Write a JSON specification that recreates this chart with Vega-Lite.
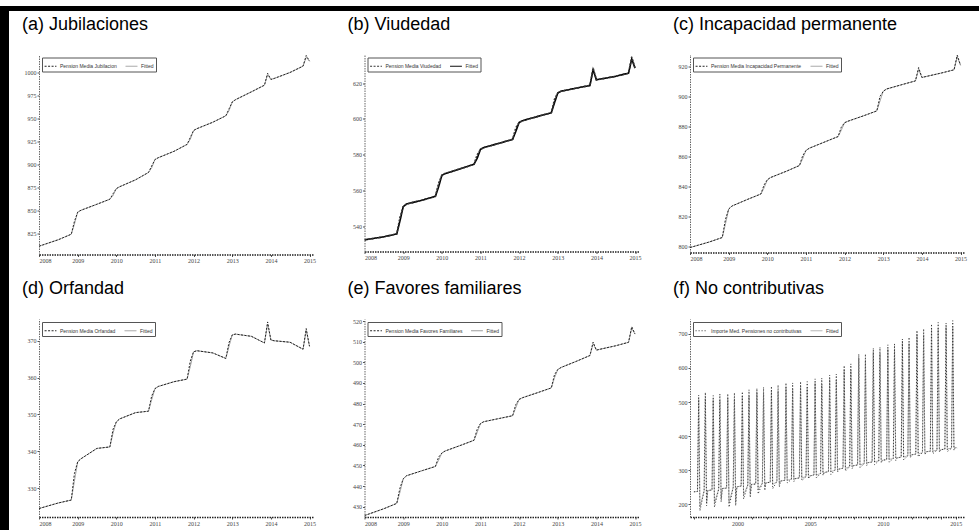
{
"$schema": "https://vega.github.io/schema/vega-lite/v6.json",
"padding": {"left": 0, "top": 6, "right": 0, "bottom": 0},
"background": "white",
"spacing": 0,
"datasets": {
"a": [
{"d":"2008/01/01","act":811,"fit":811},{"d":"2008/07/01","act":818,"fit":818},{"d":"2008/11/01","act":824,"fit":824},{"d":"2008/12/01","act":838,"fit":835},
{"d":"2009/01/01","act":848,"fit":848},{"d":"2009/02/01","act":850,"fit":850},{"d":"2009/07/01","act":856.5,"fit":856.5},{"d":"2009/11/01","act":862,"fit":862},{"d":"2009/12/01","act":868,"fit":866},
{"d":"2010/01/01","act":873.5,"fit":873.5},{"d":"2010/02/01","act":875.5,"fit":875.5},{"d":"2010/07/01","act":883,"fit":883},{"d":"2010/11/01","act":891,"fit":891},{"d":"2010/12/01","act":898,"fit":896},
{"d":"2011/01/01","act":905,"fit":905},{"d":"2011/02/01","act":907,"fit":907},{"d":"2011/07/01","act":914,"fit":914},{"d":"2011/11/01","act":921.5,"fit":921.5},{"d":"2011/12/01","act":929,"fit":927},
{"d":"2012/01/01","act":936.5,"fit":936.5},{"d":"2012/02/01","act":938.5,"fit":938.5},{"d":"2012/07/01","act":945.5,"fit":945.5},{"d":"2012/11/01","act":952.5,"fit":952.5},{"d":"2012/12/01","act":960,"fit":958},
{"d":"2013/01/01","act":967.5,"fit":967.5},{"d":"2013/02/01","act":970,"fit":970},{"d":"2013/07/01","act":978.5,"fit":978.5},{"d":"2013/11/01","act":985.7,"fit":985.7},{"d":"2013/12/01","act":998.6,"fit":997},
{"d":"2014/01/01","act":992,"fit":992},{"d":"2014/02/01","act":993,"fit":993},{"d":"2014/07/01","act":999.5,"fit":999.5},{"d":"2014/11/01","act":1006.4,"fit":1006.4},{"d":"2014/12/01","act":1017.9,"fit":1016},
{"d":"2015/01/01","act":1011.8,"fit":1011.8}
],
"b": [
{"d":"2008/01/01","act":532.5,"fit":532.5},{"d":"2008/07/01","act":534.2,"fit":534.2},{"d":"2008/11/01","act":535.8,"fit":535.8},{"d":"2008/12/01","act":545,"fit":543},
{"d":"2009/01/01","act":551,"fit":551},{"d":"2009/02/01","act":552.5,"fit":552.5},{"d":"2009/07/01","act":554.7,"fit":554.7},{"d":"2009/11/01","act":556.8,"fit":556.8},{"d":"2009/12/01","act":564,"fit":562},
{"d":"2010/01/01","act":568.5,"fit":568.5},{"d":"2010/02/01","act":569.5,"fit":569.5},{"d":"2010/07/01","act":572.3,"fit":572.3},{"d":"2010/11/01","act":574.7,"fit":574.7},{"d":"2010/12/01","act":580,"fit":578},
{"d":"2011/01/01","act":583,"fit":583},{"d":"2011/02/01","act":584,"fit":584},{"d":"2011/07/01","act":586.5,"fit":586.5},{"d":"2011/11/01","act":588.6,"fit":588.6},{"d":"2011/12/01","act":595,"fit":593},
{"d":"2012/01/01","act":598,"fit":598},{"d":"2012/02/01","act":599,"fit":599},{"d":"2012/07/01","act":601.5,"fit":601.5},{"d":"2012/11/01","act":603.5,"fit":603.5},{"d":"2012/12/01","act":611,"fit":609},
{"d":"2013/01/01","act":614.5,"fit":614.5},{"d":"2013/02/01","act":615.5,"fit":615.5},{"d":"2013/07/01","act":617.3,"fit":617.3},{"d":"2013/11/01","act":618.7,"fit":618.7},{"d":"2013/12/01","act":628.4,"fit":627.5},
{"d":"2014/01/01","act":621.9,"fit":621.9},{"d":"2014/02/01","act":622.2,"fit":622.2},{"d":"2014/07/01","act":623.8,"fit":623.8},{"d":"2014/11/01","act":625.6,"fit":625.6},{"d":"2014/12/01","act":634.6,"fit":633.5},
{"d":"2015/01/01","act":628.4,"fit":628.4}
],
"c": [
{"d":"2008/01/01","act":799.3,"fit":799.3},{"d":"2008/07/01","act":803,"fit":803},{"d":"2008/11/01","act":806,"fit":806},{"d":"2008/12/01","act":818,"fit":815},
{"d":"2009/01/01","act":825,"fit":825},{"d":"2009/02/01","act":827,"fit":827},{"d":"2009/07/01","act":831.5,"fit":831.5},{"d":"2009/11/01","act":835,"fit":835},{"d":"2009/12/01","act":841,"fit":839},
{"d":"2010/01/01","act":844.5,"fit":844.5},{"d":"2010/02/01","act":846,"fit":846},{"d":"2010/07/01","act":850.2,"fit":850.2},{"d":"2010/11/01","act":854,"fit":854},{"d":"2010/12/01","act":860.5,"fit":858.5},
{"d":"2011/01/01","act":864,"fit":864},{"d":"2011/02/01","act":865.5,"fit":865.5},{"d":"2011/07/01","act":869.8,"fit":869.8},{"d":"2011/11/01","act":873.3,"fit":873.3},{"d":"2011/12/01","act":879.5,"fit":877.5},
{"d":"2012/01/01","act":882.5,"fit":882.5},{"d":"2012/02/01","act":883.5,"fit":883.5},{"d":"2012/07/01","act":887.2,"fit":887.2},{"d":"2012/11/01","act":890.4,"fit":890.4},{"d":"2012/12/01","act":900,"fit":897},
{"d":"2013/01/01","act":903.5,"fit":903.5},{"d":"2013/02/01","act":905,"fit":905},{"d":"2013/07/01","act":908,"fit":908},{"d":"2013/11/01","act":910.4,"fit":910.4},{"d":"2013/12/01","act":919.3,"fit":918},
{"d":"2014/01/01","act":912.7,"fit":912.7},{"d":"2014/02/01","act":913.2,"fit":913.2},{"d":"2014/07/01","act":915.6,"fit":915.6},{"d":"2014/11/01","act":917.8,"fit":917.8},{"d":"2014/12/01","act":927.6,"fit":926.5},
{"d":"2015/01/01","act":920.9,"fit":920.9}
],
"d": [
{"d":"2008/01/01","act":324.5,"fit":324.5},{"d":"2008/07/01","act":326,"fit":326},{"d":"2008/11/01","act":326.8,"fit":326.8},{"d":"2008/12/01","act":334,"fit":332},
{"d":"2009/01/01","act":337.2,"fit":337.2},{"d":"2009/02/01","act":338,"fit":338},{"d":"2009/07/01","act":340.8,"fit":340.8},{"d":"2009/11/01","act":341.2,"fit":341.2},{"d":"2009/12/01","act":346,"fit":345},
{"d":"2010/01/01","act":348,"fit":348},{"d":"2010/02/01","act":348.8,"fit":348.8},{"d":"2010/07/01","act":350.5,"fit":350.5},{"d":"2010/11/01","act":350.9,"fit":350.9},{"d":"2010/12/01","act":355,"fit":354},
{"d":"2011/01/01","act":357,"fit":357},{"d":"2011/02/01","act":357.6,"fit":357.6},{"d":"2011/07/01","act":358.9,"fit":358.9},{"d":"2011/11/01","act":359.6,"fit":359.6},{"d":"2011/12/01","act":364.5,"fit":363},
{"d":"2012/01/01","act":367,"fit":367},{"d":"2012/02/01","act":367.3,"fit":367.3},{"d":"2012/07/01","act":366.7,"fit":366.7},{"d":"2012/11/01","act":365.2,"fit":365.2},{"d":"2012/12/01","act":369.5,"fit":368.5},
{"d":"2013/01/01","act":371.6,"fit":371.6},{"d":"2013/02/01","act":371.8,"fit":371.8},{"d":"2013/07/01","act":371.2,"fit":371.2},{"d":"2013/11/01","act":369.4,"fit":369.4},{"d":"2013/12/01","act":375.1,"fit":374.5},
{"d":"2014/01/01","act":370.2,"fit":370.2},{"d":"2014/02/01","act":370,"fit":370},{"d":"2014/07/01","act":369.6,"fit":369.6},{"d":"2014/11/01","act":367.7,"fit":367.7},{"d":"2014/12/01","act":373.3,"fit":372.8},
{"d":"2015/01/01","act":368.5,"fit":368.5}
],
"e": [
{"d":"2008/01/01","act":425.7,"fit":425.7},{"d":"2008/07/01","act":429,"fit":429},{"d":"2008/11/01","act":431.6,"fit":431.6},{"d":"2008/12/01","act":439,"fit":437},
{"d":"2009/01/01","act":443.5,"fit":443.5},{"d":"2009/02/01","act":445,"fit":445},{"d":"2009/07/01","act":447.5,"fit":447.5},{"d":"2009/11/01","act":449.5,"fit":449.5},{"d":"2009/12/01","act":454,"fit":452.5},
{"d":"2010/01/01","act":456,"fit":456},{"d":"2010/02/01","act":457,"fit":457},{"d":"2010/07/01","act":459.8,"fit":459.8},{"d":"2010/11/01","act":462.2,"fit":462.2},{"d":"2010/12/01","act":467.5,"fit":466},
{"d":"2011/01/01","act":470.3,"fit":470.3},{"d":"2011/02/01","act":471.2,"fit":471.2},{"d":"2011/07/01","act":472.8,"fit":472.8},{"d":"2011/11/01","act":474.1,"fit":474.1},{"d":"2011/12/01","act":479.5,"fit":478},
{"d":"2012/01/01","act":482,"fit":482},{"d":"2012/02/01","act":482.8,"fit":482.8},{"d":"2012/07/01","act":485.4,"fit":485.4},{"d":"2012/11/01","act":487.6,"fit":487.6},{"d":"2012/12/01","act":494,"fit":492.5},
{"d":"2013/01/01","act":496.5,"fit":496.5},{"d":"2013/02/01","act":497.5,"fit":497.5},{"d":"2013/07/01","act":500.6,"fit":500.6},{"d":"2013/11/01","act":503.3,"fit":503.3},{"d":"2013/12/01","act":509.8,"fit":509},
{"d":"2014/01/01","act":505.9,"fit":505.9},{"d":"2014/02/01","act":506.3,"fit":506.3},{"d":"2014/07/01","act":508,"fit":508},{"d":"2014/11/01","act":509.7,"fit":509.7},{"d":"2014/12/01","act":517.3,"fit":516.5},
{"d":"2015/01/01","act":513.7,"fit":513.7}
],
"f": [
{"d":"1997/01/01","act":236,"fit":236},{"d":"1997/04/01","act":237,"fit":237},{"d":"1997/05/01","act":520,"fit":508},{"d":"1997/06/01","act":180,"fit":192},{"d":"1997/09/15","act":239,"fit":239},{"d":"1997/10/15","act":528,"fit":510},{"d":"1997/11/15","act":195,"fit":205},{"d":"1997/12/15","act":240,"fit":240},
{"d":"1998/01/01","act":240,"fit":240},{"d":"1998/04/01","act":241.5,"fit":241.5},{"d":"1998/05/01","act":519,"fit":507},{"d":"1998/06/01","act":191,"fit":203},{"d":"1998/09/15","act":244,"fit":244},{"d":"1998/10/15","act":524,"fit":506},{"d":"1998/11/15","act":206,"fit":216},{"d":"1998/12/15","act":245.7,"fit":245.7},
{"d":"1999/01/01","act":246,"fit":246},{"d":"1999/04/01","act":247,"fit":247},{"d":"1999/05/01","act":524,"fit":512},{"d":"1999/06/01","act":191,"fit":203},{"d":"1999/09/15","act":249.5,"fit":249.5},{"d":"1999/10/15","act":527,"fit":509},{"d":"1999/11/15","act":195,"fit":205},{"d":"1999/12/15","act":250.7,"fit":250.7},
{"d":"2000/01/01","act":251,"fit":251},{"d":"2000/04/01","act":253,"fit":253},{"d":"2000/05/01","act":530,"fit":518},{"d":"2000/06/01","act":215,"fit":227},{"d":"2000/09/15","act":256,"fit":256},{"d":"2000/10/15","act":536,"fit":518},{"d":"2000/11/15","act":220,"fit":230},{"d":"2000/12/15","act":257.6,"fit":257.6},
{"d":"2001/01/01","act":258,"fit":258},{"d":"2001/04/01","act":259,"fit":259},{"d":"2001/05/01","act":540,"fit":528},{"d":"2001/06/01","act":230,"fit":242},{"d":"2001/09/15","act":261.5,"fit":261.5},{"d":"2001/10/15","act":543,"fit":525},{"d":"2001/11/15","act":240,"fit":250},{"d":"2001/12/15","act":262.7,"fit":262.7},
{"d":"2002/01/01","act":263,"fit":263},{"d":"2002/04/01","act":264,"fit":264},{"d":"2002/05/01","act":546,"fit":534},{"d":"2002/06/01","act":245,"fit":257},{"d":"2002/09/15","act":266.5,"fit":266.5},{"d":"2002/10/15","act":550,"fit":532},{"d":"2002/11/15","act":250,"fit":260},{"d":"2002/12/15","act":267.7,"fit":267.7},
{"d":"2003/01/01","act":268,"fit":268},{"d":"2003/04/01","act":270,"fit":270},{"d":"2003/05/01","act":556,"fit":544},{"d":"2003/06/01","act":262,"fit":270},{"d":"2003/09/15","act":273,"fit":273},{"d":"2003/10/15","act":556,"fit":538},{"d":"2003/11/15","act":266,"fit":274},{"d":"2003/12/15","act":274.6,"fit":274.6},
{"d":"2004/01/01","act":275,"fit":275},{"d":"2004/04/01","act":277,"fit":277},{"d":"2004/05/01","act":560,"fit":548},{"d":"2004/06/01","act":269,"fit":277},{"d":"2004/09/15","act":280.6,"fit":280.6},{"d":"2004/10/15","act":560,"fit":542},{"d":"2004/11/15","act":274,"fit":282},{"d":"2004/12/15","act":282.6,"fit":282.6},
{"d":"2005/01/01","act":283,"fit":283},{"d":"2005/04/01","act":285.5,"fit":285.5},{"d":"2005/05/01","act":568,"fit":556},{"d":"2005/06/01","act":277,"fit":285},{"d":"2005/09/15","act":290,"fit":290},{"d":"2005/10/15","act":570,"fit":552},{"d":"2005/11/15","act":284,"fit":292},{"d":"2005/12/15","act":292.5,"fit":292.5},
{"d":"2006/01/01","act":293,"fit":293},{"d":"2006/04/01","act":295.5,"fit":295.5},{"d":"2006/05/01","act":579,"fit":567},{"d":"2006/06/01","act":287,"fit":295},{"d":"2006/09/15","act":300,"fit":300},{"d":"2006/10/15","act":582,"fit":564},{"d":"2006/11/15","act":294,"fit":302},{"d":"2006/12/15","act":302.5,"fit":302.5},
{"d":"2007/01/01","act":303,"fit":303},{"d":"2007/04/01","act":305.5,"fit":305.5},{"d":"2007/05/01","act":607,"fit":595},{"d":"2007/06/01","act":297,"fit":305},{"d":"2007/09/15","act":310,"fit":310},{"d":"2007/10/15","act":612,"fit":594},{"d":"2007/11/15","act":304,"fit":312},{"d":"2007/12/15","act":312.5,"fit":312.5},
{"d":"2008/01/01","act":313,"fit":313},{"d":"2008/04/01","act":315,"fit":315},{"d":"2008/05/01","act":641,"fit":629},{"d":"2008/06/01","act":307,"fit":315},{"d":"2008/09/15","act":319.3,"fit":319.3},{"d":"2008/10/15","act":641,"fit":623},{"d":"2008/11/15","act":313,"fit":321},{"d":"2008/12/15","act":321.5,"fit":321.5},
{"d":"2009/01/01","act":322,"fit":322},{"d":"2009/04/01","act":323.7,"fit":323.7},{"d":"2009/05/01","act":658,"fit":646},{"d":"2009/06/01","act":316,"fit":324},{"d":"2009/09/15","act":327,"fit":327},{"d":"2009/10/15","act":661,"fit":643},{"d":"2009/11/15","act":321,"fit":329},{"d":"2009/12/15","act":328.6,"fit":328.6},
{"d":"2010/01/01","act":329,"fit":329},{"d":"2010/04/01","act":330.7,"fit":330.7},{"d":"2010/05/01","act":668,"fit":656},{"d":"2010/06/01","act":323,"fit":331},{"d":"2010/09/15","act":334,"fit":334},{"d":"2010/10/15","act":671,"fit":653},{"d":"2010/11/15","act":328,"fit":336},{"d":"2010/12/15","act":335.6,"fit":335.6},
{"d":"2011/01/01","act":336,"fit":336},{"d":"2011/04/01","act":338,"fit":338},{"d":"2011/05/01","act":685,"fit":673},{"d":"2011/06/01","act":330,"fit":338},{"d":"2011/09/15","act":342.3,"fit":342.3},{"d":"2011/10/15","act":690,"fit":672},{"d":"2011/11/15","act":336,"fit":344},{"d":"2011/12/15","act":344.5,"fit":344.5},
{"d":"2012/01/01","act":345,"fit":345},{"d":"2012/04/01","act":347,"fit":347},{"d":"2012/05/01","act":710,"fit":698},{"d":"2012/06/01","act":339,"fit":347},{"d":"2012/09/15","act":351.3,"fit":351.3},{"d":"2012/10/15","act":715,"fit":697},{"d":"2012/11/15","act":345,"fit":353},{"d":"2012/12/15","act":353.5,"fit":353.5},
{"d":"2013/01/01","act":354,"fit":354},{"d":"2013/04/01","act":355.5,"fit":355.5},{"d":"2013/05/01","act":729,"fit":717},{"d":"2013/06/01","act":348,"fit":356},{"d":"2013/09/15","act":358.2,"fit":358.2},{"d":"2013/10/15","act":734,"fit":716},{"d":"2013/11/15","act":352,"fit":360},{"d":"2013/12/15","act":359.7,"fit":359.7},
{"d":"2014/01/01","act":360,"fit":360},{"d":"2014/04/01","act":361.5,"fit":361.5},{"d":"2014/05/01","act":732,"fit":720},{"d":"2014/06/01","act":354,"fit":362},{"d":"2014/09/15","act":364.2,"fit":364.2},{"d":"2014/10/15","act":739,"fit":721},{"d":"2014/11/15","act":358,"fit":366},{"d":"2014/12/15","act":365.7,"fit":365.7},
{"d":"2015/01/15","act":366,"fit":366},{"d":"2015/02/01","act":365,"fit":365}
]
},
"resolve": {"scale": {"color": "independent", "strokeDash": "independent"}, "legend": {"color": "independent", "strokeDash": "independent"}},
"vconcat": [
{"width": 979, "height": 5, "data": {"values": []}, "mark": "rule", "encoding": {}, "view": {"fill": "black", "stroke": null}},
{"spacing": 0,
 "resolve": {"scale": {"color": "independent", "strokeDash": "independent"}, "legend": {"color": "independent", "strokeDash": "independent"}},
 "hconcat": [
 {"width": 9, "height": 519, "data": {"values": []}, "mark": "rule", "encoding": {}, "view": {"fill": "black", "stroke": null}},
 {"spacing": 3.5,
  "resolve": {"scale": {"color": "independent", "strokeDash": "independent"}, "legend": {"color": "independent", "strokeDash": "independent"}},
  "vconcat": [
  {"width": 1, "height": 1, "data": {"values": []}, "mark": "rule", "encoding": {}, "view": {"fill": "white", "stroke": null}},
  {"spacing": 15.5,
   "resolve": {"scale": {"color": "independent", "strokeDash": "independent"}, "legend": {"color": "independent", "strokeDash": "independent"}},
   "vconcat": [
   {"spacing": 51.5, "bounds": "flush",
    "resolve": {"scale": {"color": "independent", "strokeDash": "independent"}, "legend": {"color": "independent", "strokeDash": "independent"}},
    "hconcat": [
    {"width": 274, "height": 200, "title": {"text": "(a) Jubilaciones", "offset": 21},
     "data": {"name": "a"}, "transform": [{"fold": ["fit", "act"], "as": ["s", "v"]}],
     "mark": {"type": "line", "clip": true, "strokeWidth": 1},
     "encoding": {
      "x": {"field": "d", "type": "temporal", "scale": {"domain": [{"year": 2008, "month": 1, "date": 1}, {"year": 2015, "month": 2, "date": 3}]}, "axis": {"format": "%Y", "values": [{"year": 2008}, {"year": 2009}, {"year": 2010}, {"year": 2011}, {"year": 2012}, {"year": 2013}, {"year": 2014}, {"year": 2015}]}},
      "y": {"field": "v", "type": "quantitative", "scale": {"domain": [802, 1019], "nice": false, "zero": false}, "axis": {"format": "d", "values": [825, 850, 875, 900, 925, 950, 975, 1000]}},
      "color": {"field": "s", "type": "nominal", "title": null, "scale": {"domain": ["act", "fit"], "range": ["#222", "#999"]}, "legend": {"labelExpr": "datum.label == 'act' ? 'Pension Media Jubilacion' : 'Fitted'"}},
      "strokeDash": {"field": "s", "type": "nominal", "title": null, "scale": {"domain": ["act", "fit"], "range": [[2, 1.5], [1, 0]]}, "legend": {"labelExpr": "datum.label == 'act' ? 'Pension Media Jubilacion' : 'Fitted'"}}
     }},
    {"width": 274, "height": 197, "title": {"text": "(b) Viudedad", "offset": 21},
     "data": {"name": "b"}, "transform": [{"fold": ["fit", "act"], "as": ["s", "v"]}],
     "mark": {"type": "line", "clip": true, "strokeWidth": 1.6},
     "encoding": {
      "x": {"field": "d", "type": "temporal", "scale": {"domain": [{"year": 2008, "month": 1, "date": 1}, {"year": 2015, "month": 2, "date": 3}]}, "axis": {"format": "%Y", "values": [{"year": 2008}, {"year": 2009}, {"year": 2010}, {"year": 2011}, {"year": 2012}, {"year": 2013}, {"year": 2014}, {"year": 2015}]}},
      "y": {"field": "v", "type": "quantitative", "scale": {"domain": [526, 636], "nice": false, "zero": false}, "axis": {"format": "d", "values": [540, 560, 580, 600, 620]}},
      "color": {"field": "s", "type": "nominal", "title": null, "scale": {"domain": ["act", "fit"], "range": ["#333", "#000"]}, "legend": {"labelExpr": "datum.label == 'act' ? 'Pension Media Viudedad' : 'Fitted'"}},
      "strokeDash": {"field": "s", "type": "nominal", "title": null, "scale": {"domain": ["act", "fit"], "range": [[2, 1.5], [1, 0]]}, "legend": {"labelExpr": "datum.label == 'act' ? 'Pension Media Viudedad' : 'Fitted'"}}
     }},
    {"width": 274, "height": 198, "title": {"text": "(c) Incapacidad permanente", "offset": 21},
     "data": {"name": "c"}, "transform": [{"fold": ["fit", "act"], "as": ["s", "v"]}],
     "mark": {"type": "line", "clip": true, "strokeWidth": 1},
     "encoding": {
      "x": {"field": "d", "type": "temporal", "scale": {"domain": [{"year": 2008, "month": 1, "date": 1}, {"year": 2015, "month": 2, "date": 3}]}, "axis": {"format": "%Y", "values": [{"year": 2008}, {"year": 2009}, {"year": 2010}, {"year": 2011}, {"year": 2012}, {"year": 2013}, {"year": 2014}, {"year": 2015}]}},
      "y": {"field": "v", "type": "quantitative", "scale": {"domain": [796, 928], "nice": false, "zero": false}, "axis": {"format": "d", "values": [800, 820, 840, 860, 880, 900, 920]}},
      "color": {"field": "s", "type": "nominal", "title": null, "scale": {"domain": ["act", "fit"], "range": ["#222", "#999"]}, "legend": {"labelExpr": "datum.label == 'act' ? 'Pension Media Incapacidad Permanente' : 'Fitted'"}},
      "strokeDash": {"field": "s", "type": "nominal", "title": null, "scale": {"domain": ["act", "fit"], "range": [[2, 1.5], [1, 0]]}, "legend": {"labelExpr": "datum.label == 'act' ? 'Pension Media Incapacidad Permanente' : 'Fitted'"}}
     }}
    ]},
   {"spacing": 51.5, "bounds": "flush",
    "resolve": {"scale": {"color": "independent", "strokeDash": "independent"}, "legend": {"color": "independent", "strokeDash": "independent"}},
    "hconcat": [
    {"width": 274, "height": 198, "title": {"text": "(d) Orfandad", "offset": 21.3},
     "data": {"name": "d"}, "transform": [{"fold": ["fit", "act"], "as": ["s", "v"]}],
     "mark": {"type": "line", "clip": true, "strokeWidth": 1},
     "encoding": {
      "x": {"field": "d", "type": "temporal", "scale": {"domain": [{"year": 2008, "month": 1, "date": 1}, {"year": 2015, "month": 2, "date": 3}]}, "axis": {"format": "%Y", "values": [{"year": 2008}, {"year": 2009}, {"year": 2010}, {"year": 2011}, {"year": 2012}, {"year": 2013}, {"year": 2014}, {"year": 2015}]}},
      "y": {"field": "v", "type": "quantitative", "scale": {"domain": [322.2, 375.9], "nice": false, "zero": false}, "axis": {"format": "d", "values": [330, 340, 350, 360, 370]}},
      "color": {"field": "s", "type": "nominal", "title": null, "scale": {"domain": ["act", "fit"], "range": ["#222", "#999"]}, "legend": {"labelExpr": "datum.label == 'act' ? 'Pension Media Orfandad' : 'Fitted'"}},
      "strokeDash": {"field": "s", "type": "nominal", "title": null, "scale": {"domain": ["act", "fit"], "range": [[2, 1.5], [1, 0]]}, "legend": {"labelExpr": "datum.label == 'act' ? 'Pension Media Orfandad' : 'Fitted'"}}
     }},
    {"width": 274, "height": 198, "title": {"text": "(e) Favores familiares", "offset": 20.3},
     "data": {"name": "e"}, "transform": [{"fold": ["fit", "act"], "as": ["s", "v"]}],
     "mark": {"type": "line", "clip": true, "strokeWidth": 1},
     "encoding": {
      "x": {"field": "d", "type": "temporal", "scale": {"domain": [{"year": 2008, "month": 1, "date": 1}, {"year": 2015, "month": 2, "date": 3}]}, "axis": {"format": "%Y", "values": [{"year": 2008}, {"year": 2009}, {"year": 2010}, {"year": 2011}, {"year": 2012}, {"year": 2013}, {"year": 2014}, {"year": 2015}]}},
      "y": {"field": "v", "type": "quantitative", "scale": {"domain": [425, 521], "nice": false, "zero": false}, "axis": {"format": "d", "values": [430, 440, 450, 460, 470, 480, 490, 500, 510, 520]}},
      "color": {"field": "s", "type": "nominal", "title": null, "scale": {"domain": ["act", "fit"], "range": ["#222", "#999"]}, "legend": {"labelExpr": "datum.label == 'act' ? 'Pension Media Favores Familiares' : 'Fitted'"}},
      "strokeDash": {"field": "s", "type": "nominal", "title": null, "scale": {"domain": ["act", "fit"], "range": [[2, 1.5], [1, 0]]}, "legend": {"labelExpr": "datum.label == 'act' ? 'Pension Media Favores Familiares' : 'Fitted'"}}
     }},
    {"width": 274, "height": 198, "title": {"text": "(f) No contributivas", "offset": 21.3},
     "data": {"name": "f"}, "transform": [{"fold": ["fit", "act"], "as": ["s", "v"]}],
     "mark": {"type": "line", "clip": true, "strokeWidth": 1},
     "encoding": {
      "x": {"field": "d", "type": "temporal", "scale": {"domain": [{"year": 1996, "month": 9, "date": 25}, {"year": 2015, "month": 7, "date": 25}]}, "axis": {"format": "%Y", "labelExpr": "year(datum.value) % 5 === 0 ? datum.label : ''", "values": [{"year": 1997}, {"year": 1998}, {"year": 1999}, {"year": 2000}, {"year": 2001}, {"year": 2002}, {"year": 2003}, {"year": 2004}, {"year": 2005}, {"year": 2006}, {"year": 2007}, {"year": 2008}, {"year": 2009}, {"year": 2010}, {"year": 2011}, {"year": 2012}, {"year": 2013}, {"year": 2014}, {"year": 2015}]}},
      "y": {"field": "v", "type": "quantitative", "scale": {"domain": [162, 744], "nice": false, "zero": false}, "axis": {"format": "d", "values": [200, 300, 400, 500, 600, 700]}},
      "color": {"field": "s", "type": "nominal", "title": null, "scale": {"domain": ["act", "fit"], "range": ["#333", "#aaa"]}, "legend": {"labelExpr": "datum.label == 'act' ? 'Importe Med. Pensiones no contributivas' : 'Fitted'"}},
      "strokeDash": {"field": "s", "type": "nominal", "title": null, "scale": {"domain": ["act", "fit"], "range": [[1, 2], [1, 0]]}, "legend": {"labelExpr": "datum.label == 'act' ? 'Importe Med. Pensiones no contributivas' : 'Fitted'"}}
     }}
    ]}
   ]}
  ]}
 ]}
],
"config": {
 "view": {"stroke": null},
 "title": {"font": "Liberation Sans", "fontSize": 18, "fontWeight": "normal", "color": "#000", "anchor": "start", "frame": "group", "dx": -17, "baseline": "alphabetic"},
 "axis": {"labelFont": "Liberation Serif", "labelFontSize": 6, "labelColor": "#444", "domainColor": "#666", "domainDash": [1.5, 1], "tickColor": "#555", "tickSize": 2, "labelPadding": 1, "grid": false, "title": null},
 "axisX": {"domainColor": "#222", "domainWidth": 1.3},
 "axisY": {"minExtent": 30},
 "legend": {"orient": "top-left", "direction": "horizontal", "offset": 3, "padding": 2, "strokeColor": "#555", "fillColor": "white", "labelFont": "Liberation Sans", "labelFontSize": 5, "labelColor": "#333", "symbolType": "stroke", "symbolSize": 140, "symbolStrokeWidth": 1, "columnPadding": 6, "labelLimit": 300, "labelOffset": 3}
}
}
